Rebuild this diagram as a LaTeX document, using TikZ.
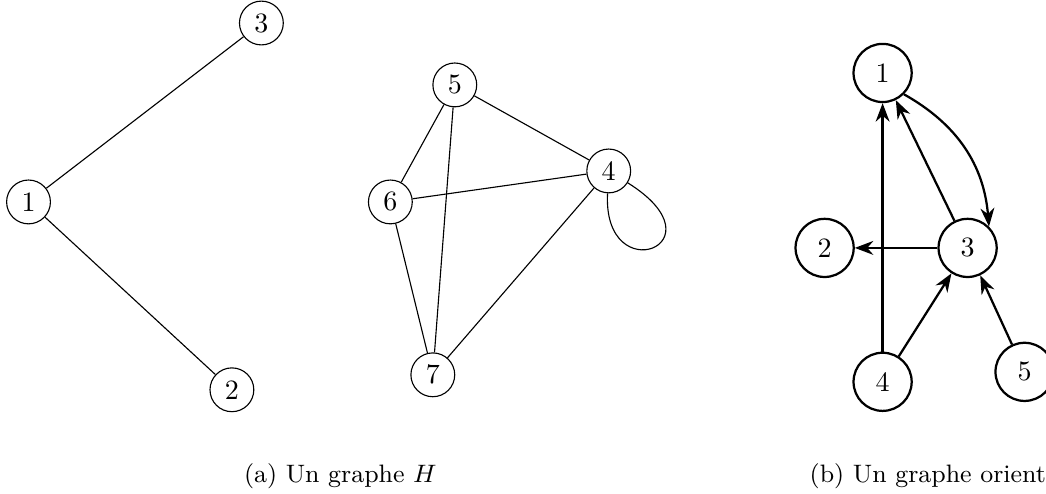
\documentclass[tikz,border=0pt]{standalone}
\usetikzlibrary{arrows.meta}
\begin{document}
\begin{tikzpicture}[scale=1]
                    \tikzset{sommet/.style={circle,draw,minimum size=0.55cm,inner sep=0pt,fill=white,font=\normalsize}}
                    \tikzset{sommetor/.style={circle,draw,minimum size=0.73cm,inner sep=0pt,fill=white,thick,font=\normalsize}}
                    \tikzset{arc/.style={thick,-{Stealth}}}
                    \useasboundingbox (0,0) rectangle (13.13,-6.19);
                    % graphe H
                    \node[sommet] (H1) at (0.358,-2.535) {1};
                    \node[sommet] (H2) at (2.911,-4.893) {2};
                    \node[sommet] (H3) at (3.281,-0.289) {3};
                    \node[sommet] (H4) at (7.641,-2.146) {4};
                    \node[sommet] (H5) at (5.709,-1.066) {5};
                    \node[sommet] (H6) at (4.900,-2.535) {6};
                    \node[sommet] (H7) at (5.433,-4.705) {7};
                    \draw (H1) -- (H3);
                    \draw (H1) -- (H2);
                    \draw (H5) -- (H4);
                    \draw (H5) -- (H6);
                    \draw (H5) -- (H7);
                    \draw (H6) -- (H4);
                    \draw (H6) -- (H7);
                    \draw (H7) -- (H4);
                    \draw (H4) to[out=-93,in=-32,out looseness=11,in looseness=13] (H4);
                    % graphe oriente
                    \node[sommetor] (D1) at (11.079,-0.916) {1};
                    \node[sommetor] (D2) at (10.351,-3.112) {2};
                    \node[sommetor] (D3) at (12.146,-3.112) {3};
                    \node[sommetor] (D4) at (11.079,-4.793) {4};
                    \node[sommetor] (D5) at (12.861,-4.668) {5};
                    \draw[arc] (D1.south east) to[bend left=28] (D3.north east);
                    \draw[arc] (D3) -- (D1);
                    \draw[arc] (D3) -- (D2);
                    \draw[arc] (D4) -- (D1);
                    \draw[arc] (D4) -- (D3);
                    \draw[arc] (D5) -- (D3);
                    % legendes
                    \node[anchor=base,font=\small] (la) at (4.272,-6.06) {(a) Un graphe $H$};
                    \node[anchor=base west,font=\small] (lb) at (10.04,-6.06) {(b) Un graphe orienté};
                \end{tikzpicture}
\end{document}
